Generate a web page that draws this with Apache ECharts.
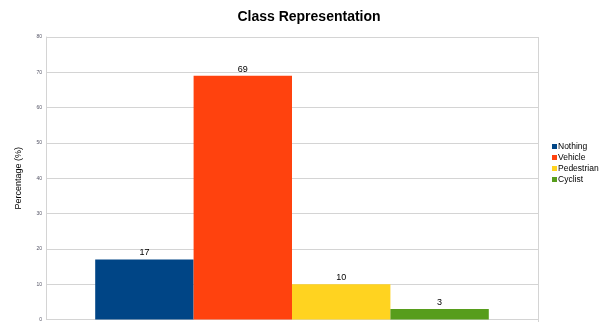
<!DOCTYPE html>
<html><head><meta charset="utf-8">
<script src="https://cdn.jsdelivr.net/npm/echarts@6/dist/echarts.min.js"></script>
<style>html,body{margin:0;padding:0;background:#fff}#c{width:600px;height:322px}</style>
</head><body><div id="c"></div>
<script>
const categories = [''];
const seriesNames = ['Nothing', 'Vehicle', 'Pedestrian', 'Cyclist'];
const seriesValues = [17, 69, 10, 3];
const colors = ['#004586', '#ff420e', '#ffd320', '#579d1c'];
const yTicks = [0, 10, 20, 30, 40, 50, 60, 70, 80];

const chart = echarts.init(document.getElementById('c'));
chart.setOption({
  animation: false,
  title: { text: 'Class Representation', left: 304, textAlign: 'center', top: 5,
    textStyle: { fontFamily: 'Liberation Sans', fontSize: 14, fontWeight: 'bold', color: '#000' } },
  legend: { orient: 'vertical', left: 552, top: 142, itemWidth: 5, itemHeight: 5, itemGap: 2, padding: 0,
    icon: 'rect', textStyle: { fontFamily: 'Liberation Sans', fontSize: 8.5, lineHeight: 9, color: '#000', padding: [0,0,0,-4] },
    data: seriesNames },
  grid: { left: 46, right: 62, top: 37, bottom: 1, containLabel: false },
  xAxis: { type: 'category', data: categories, axisLine: { show: false }, axisTick: { show: false },
    axisLabel: { show: false }, splitLine: { show: false } },
  yAxis: { type: 'value', min: yTicks[0], max: yTicks[yTicks.length-1], interval: 10,
    name: 'Percentage (%)', nameLocation: 'middle', nameGap: 23, nameRotate: 90,
    nameTextStyle: { fontFamily: 'Liberation Sans', fontSize: 9, color: '#000' },
    axisLine: { show: true, lineStyle: { color: '#d4d4d4' } }, axisTick: { show: false },
    axisLabel: { fontFamily: 'Liberation Sans', fontSize: 5, color: '#556', margin: 4 },
    splitLine: { lineStyle: { color: '#d4d4d4', width: 1 } } },
  graphic: [{ type: 'line', shape: { x1: 538.5, y1: 37, x2: 538.5, y2: 322 }, style: { stroke: '#d4d4d4', lineWidth: 1 } }],
  series: seriesNames.map((n, i) => ({
    name: n, type: 'bar', data: [seriesValues[i]], barGap: '0%', barCategoryGap: '20%',
    itemStyle: { color: colors[i] },
    label: { show: true, position: 'top', distance: 2, fontFamily: 'Liberation Sans', fontSize: 9, color: '#000' }
  }))
});
</script></body></html>
